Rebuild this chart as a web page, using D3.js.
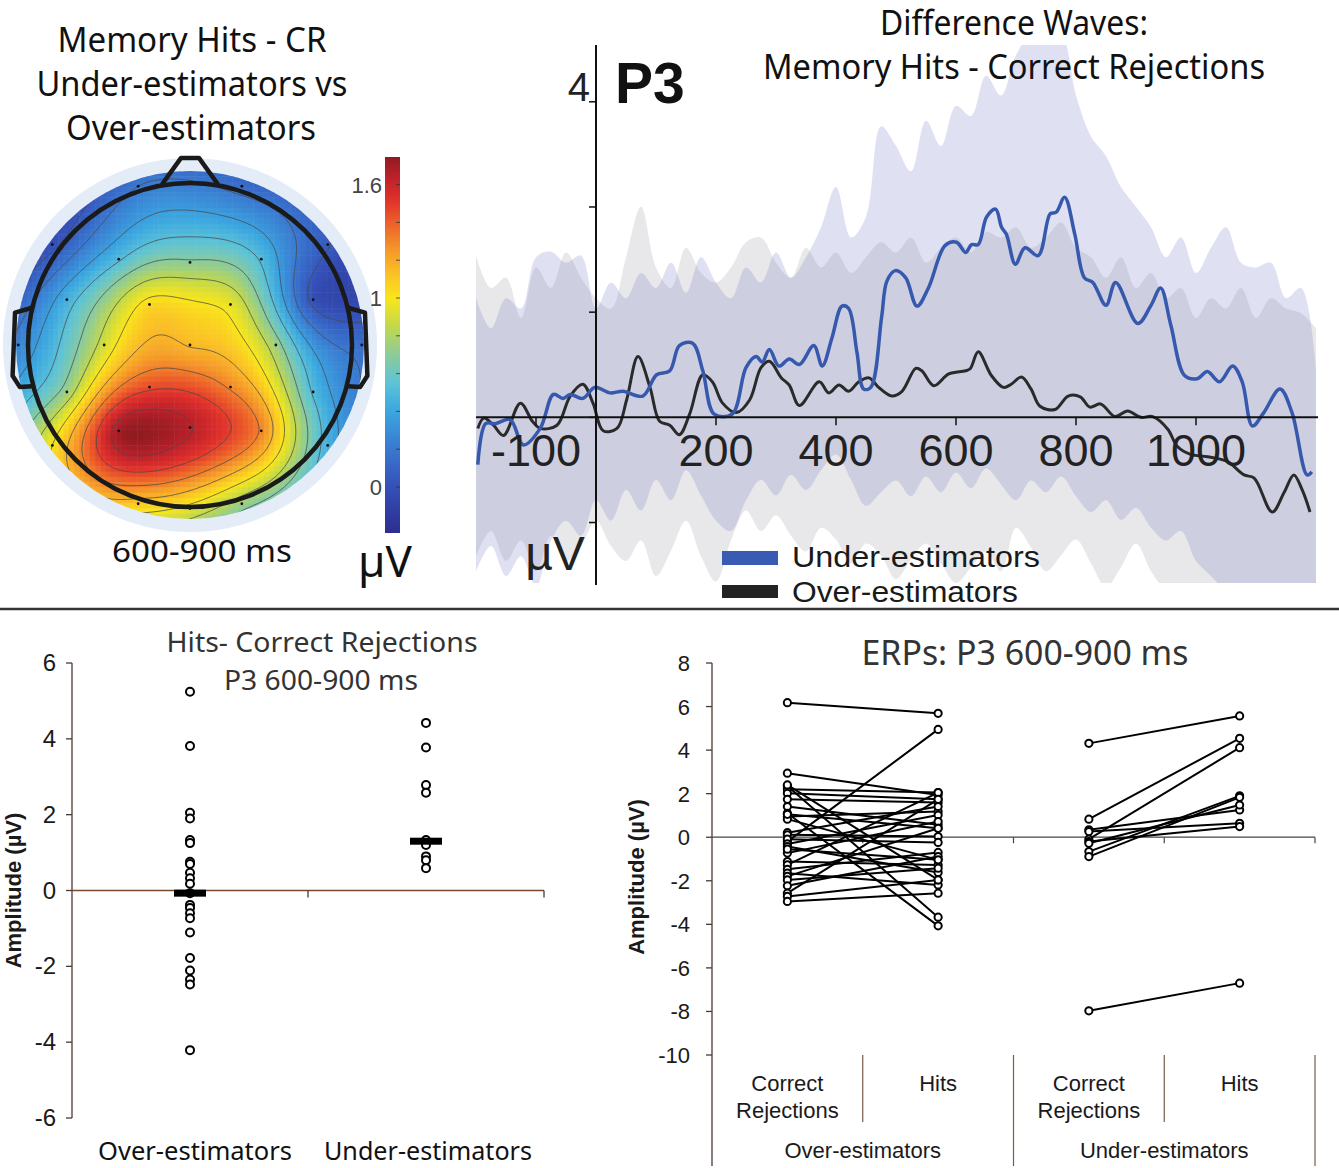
<!DOCTYPE html>
<html>
<meta charset="utf-8">
<style>
    body { margin: 0; background: #fff; }
    svg { display: block; }
    .hum { font-family: "Noto Sans", "Open Sans", sans-serif; fill: #111; }
    .sans { font-family: "Liberation Sans", Arial, sans-serif; fill: #1a1a1a; }
    .contour { fill: none; stroke: #4a4a4a; stroke-width: 0.9px; stroke-opacity: 0.85; }
    .head { fill: none; stroke: #1a1a1a; stroke-width: 4.5px; stroke-linejoin: round; stroke-linecap: round; }
    .band-over { fill: #808088; fill-opacity: 0.18; }
    .band-under { fill: #6870c0; fill-opacity: 0.21; }
    .wave-under { fill: none; stroke: #3658ad; stroke-width: 3.5px; stroke-linejoin: round; }
    .wave-over { fill: none; stroke: #2a2a2a; stroke-width: 3px; stroke-linejoin: round; }
    .pt { fill: #fff; stroke: #000; stroke-width: 2px; }
    .pair { stroke: #000; stroke-width: 2px; }
</style>

<body>
    <script src="https://d3js.org/d3.v7.min.js"></script>
    <script>

        var width = 1339,
            height = 1168;

        // ---- scalp map, hits - CR, 600-900 ms (electrode positions in head radii)
        var elecNames = ["Fp1","Fp2","F7","F3","Fz","F4","F8","FC5","FC1","FC2","FC6","T7","C3","Cz","C4","T8",
                         "CP5","CP1","CP2","CP6","P7","P3","Pz","P4","P8","O1","Oz","O2"];
        var elecX = [-0.32,0.32,-0.85,-0.44,0,0.44,0.85,-0.76,-0.25,0.25,0.76,-1.06,-0.53,0,0.53,1.06,
                     -0.76,-0.25,0.25,0.76,-0.85,-0.44,0,0.44,0.85,-0.32,0,0.32];
        var elecY = [-0.98,-0.98,-0.62,-0.53,-0.51,-0.53,-0.62,-0.28,-0.25,-0.25,-0.28,0,0,0,0,0,
                     0.29,0.26,0.26,0.29,0.62,0.53,0.51,0.53,0.62,0.98,1.01,0.98];
        var elecUv = [0.20,0.15,0.00,0.50,0.70,0.50,0.05,0.45,1.05,0.95,0.00,0.25,0.90,1.15,0.75,0.15,
                      0.75,1.45,1.30,0.50,1.00,1.70,1.65,1.30,0.45,1.10,0.95,0.75];
        var cbarLabels = [0, 1, 1.6];

        // ---- difference waves (ms, uV)
        var underMs = [-197,-184,-168,-143,-121,-93,-71,-55,-43,-22,-2,23,45,78,101,123,139,161,178,197,
                       227,250,267,277,289,305,322,339,363,377,393,410,421,435,446,458,476,485,499,516,
                       535,554,582,601,616,626,637,651,666,676,684,699,715,737,757,767,781,798,814,828,
                       850,866,903,925,941,958,981,1002,1019,1039,1061,1077,1094,1113,1140,1160,1185,1193];
        var underUv = [-0.60,-0.08,-0.08,-0.03,-0.35,-0.14,0.29,0.24,0.29,0.24,0.38,0.31,0.33,0.27,0.54,0.59,0.91,0.94,0.59,0.04,
                       0.04,0.63,0.77,0.70,0.86,0.65,0.74,0.67,0.91,0.65,1.00,1.41,1.38,0.82,0.36,0.38,1.27,1.73,1.86,1.77,
                       1.41,1.64,2.18,2.22,2.09,2.19,2.19,2.54,2.64,2.41,2.32,1.94,2.15,2.05,2.58,2.60,2.79,2.32,1.77,1.71,
                       1.42,1.71,1.19,1.42,1.64,1.17,0.53,0.49,0.58,0.45,0.65,0.45,-0.11,0.06,0.36,0.06,-0.73,-0.69];
        var overMs = [-197,-187,-171,-154,-126,-106,-93,-65,-43,-22,-5,12,35,51,70,90,106,123,139,156,
                      178,194,211,234,256,275,289,309,322,339,372,388,405,421,438,455,471,493,510,533,
                      543,563,588,616,624,637,659,679,692,709,725,740,765,787,807,823,841,865,886,908,
                      928,953,969,991,1019,1052,1080,1097,1127,1147,1163,1177,1190];
        var overUv = [-0.14,-0.01,-0.10,-0.23,0.18,-0.05,-0.14,-0.10,0.27,0.42,0.18,-0.17,-0.14,0.22,0.77,0.38,-0.05,-0.10,-0.22,0.04,
                      0.54,0.45,0.18,0.06,0.22,0.63,0.71,0.50,0.41,0.15,0.45,0.31,0.41,0.33,0.45,0.50,0.38,0.27,0.33,0.62,
                      0.59,0.40,0.55,0.59,0.62,0.83,0.53,0.38,0.42,0.51,0.36,0.14,0.10,0.27,0.26,0.13,0.17,0.01,0.08,0.00,
                      0.01,-0.15,-0.37,-0.47,-0.50,-0.56,-0.73,-0.77,-1.20,-0.95,-0.73,-0.92,-1.20];

        // confidence bands, read every 25 ms
        var bandMs = [-200,-175,-150,-125,-100,-75,-50,-25,0,25,50,75,100,125,150,175,200,225,250,275,
                      300,325,350,375,400,425,450,475,500,525,550,575,600,625,650,675,700,725,750,775,
                      800,825,850,875,900,925,950,975,1000,1025,1050,1075,1100,1125,1150,1175,1200];
        var underHi = [1.51,1.13,1.51,1.38,2.03,2.10,1.96,2.05,1.38,1.71,1.51,1.83,1.64,1.96,1.58,2.03,1.71,1.51,1.90,1.71,
                       2.09,1.77,2.03,2.41,2.92,2.28,2.54,3.69,3.44,3.12,3.76,3.44,3.95,3.82,4.33,4.08,4.59,4.85,4.78,4.85,
                       4.08,3.56,3.31,2.92,2.67,2.41,2.03,2.28,1.83,2.15,2.41,1.96,1.90,1.96,1.51,1.64,0.62];
        var underLo = [-1.95,-1.63,-2.01,-1.76,-2.14,-1.56,-1.31,-1.50,-1.05,-1.31,-0.92,-1.18,-0.79,-1.05,-0.67,-0.99,-1.31,-1.44,-1.05,-0.79,
                       -0.99,-0.73,-0.92,-0.67,-0.47,-0.79,-1.12,-0.95,-0.80,-1.00,-0.75,-0.95,-0.70,-0.90,-0.65,-0.85,-1.05,-0.80,-0.95,-0.75,
                       -1.00,-1.20,-1.05,-1.30,-1.15,-1.40,-1.56,-1.44,-1.82,-2.01,-2.21,-2.40,-2.40,-2.40,-2.40,-2.40,-2.40];
        var overHi = [2.05,1.64,1.77,1.26,1.90,1.64,2.09,1.77,1.51,1.38,2.03,2.67,1.90,1.64,2.15,1.83,1.71,1.90,2.22,2.28,
                      1.96,1.77,2.15,1.90,2.09,1.83,2.03,2.22,2.09,2.28,1.96,2.15,2.28,2.09,2.35,2.28,2.41,2.15,2.28,2.47,
                      2.15,2.03,1.77,2.03,1.64,1.83,1.51,1.64,1.26,1.51,1.38,1.64,1.26,1.51,1.38,1.32,1.13];
        var overLo = [-1.76,-1.44,-1.82,-1.56,-1.95,-1.50,-1.82,-1.63,-1.31,-1.63,-1.82,-1.56,-2.01,-1.69,-1.31,-1.76,-2.08,-1.56,-1.18,-1.44,
                      -1.24,-1.50,-1.70,-1.40,-1.55,-1.85,-1.60,-1.75,-2.05,-1.80,-1.60,-1.85,-2.10,-1.90,-1.70,-1.95,-1.40,-1.65,-1.95,-1.75,
                      -1.55,-1.85,-2.15,-1.90,-1.60,-1.95,-2.20,-2.30,-2.30,-2.30,-2.30,-2.30,-2.30,-2.30,-2.30,-2.30,-2.30];
        var waveTicks = [-100, 200, 400, 600, 800, 1000];
        var waveYTicks = [-4/3, 0, 4/3, 8/3, 4];

        // ---- hits - CR per participant, P3 600-900 ms
        var groups = ["Over-estimators", "Under-estimators"];
        var overDiff = [5.24,3.81,2.05,1.90,1.33,1.25,0.76,0.70,0.47,0.32,0.18,-0.07,-0.38,-0.46,-0.60,-0.73,-1.11,-1.78,-2.11,-2.35,-2.48,-4.21];
        var underDiff = [4.42,3.77,2.78,2.58,1.33,1.20,0.90,0.80,0.59];
        var diffCenter = [-0.07, 1.30];
        var diffTicks = [-6, -4, -2, 0, 2, 4, 6];

        // ---- ERPs per participant, CR vs hits
        var overCR   = [6.18,-0.20,2.94,2.35,2.20,2.02,1.74,1.41,1.10,0.95,0.83,0.21,0.11,-0.09,-0.31,-0.43,-0.73,-1.12,-1.27,-1.47,-1.65,-1.80,-1.96,-2.23,-2.57,-2.72,-2.95,2.40,1.05,-0.55];
        var overHits = [5.69,4.95,1.94,-3.67,2.05,1.74,1.59,0.57,-4.07,1.18,-1.04,1.41,0.03,-0.24,1.02,-1.62,0.72,-1.27,2.05,-0.70,-2.19,0.41,-1.42,-0.89,1.74,-1.96,-2.57,-1.96,0.41,-1.04];
        var underCR   = [4.31,0.83,-0.09,0.34,-0.66,-0.89,0.26,-0.20,-0.28,-7.97];
        var underHits = [5.57,4.54,4.11,1.25,1.90,1.83,0.64,0.49,1.48,-6.70];
        var erpTicks = [-10, -8, -6, -4, -2, 0, 2, 4, 6, 8];

        var svg = d3.select("body").append("svg")
            .attr("width", width)
            .attr("height", height);

        function addText(x, y, str, cls, size, anchor, len) {
            var t = svg.append("text").attr("class", cls)
                .attr("x", x).attr("y", y)
                .attr("font-size", size)
                .attr("text-anchor", anchor || "start")
                .text(str);
            if (len) t.attr("textLength", len).attr("lengthAdjust", "spacingAndGlyphs");
            return t;
        }

        // =============== scalp map ===============
        var cx = 190, cy = 345, headR = 162, mapR = 174;

        var jet = d3.scaleLinear()
            .domain([-0.24, 0.0, 0.2, 0.4, 0.55, 0.7, 0.85, 1.0, 1.12, 1.25, 1.4, 1.52, 1.65, 1.75])
            .range(["#2b2f8f","#3550b8","#3a78d0","#3ba6e0","#5dc3d6","#8ccb9a","#c2d84a","#f9e61a",
                    "#fbc326","#f59a2a","#ec5f2a","#e0302b","#b8202a","#8e1b20"])
            .clamp(true);

        function solve(A, b) {
            var n = b.length, i, j, k;
            for (k = 0; k < n; k++) {
                var p = k;
                for (i = k + 1; i < n; i++) if (Math.abs(A[i][k]) > Math.abs(A[p][k])) p = i;
                var t = A[k]; A[k] = A[p]; A[p] = t;
                t = b[k]; b[k] = b[p]; b[p] = t;
                for (i = k + 1; i < n; i++) {
                    var f = A[i][k] / A[k][k];
                    for (j = k; j < n; j++) A[i][j] -= f * A[k][j];
                    b[i] -= f * b[k];
                }
            }
            var x = new Array(n).fill(0);
            for (i = n - 1; i >= 0; i--) {
                var s = b[i];
                for (j = i + 1; j < n; j++) s -= A[i][j] * x[j];
                x[i] = s / A[i][i];
            }
            return x;
        }

        // biharmonic spline through the electrode values
        var nE = elecX.length;
        function green(r) { return r < 1e-9 ? 0 : r * r * Math.log(r); }
        var A = [], rhs = [];
        for (var i = 0; i < nE + 3; i++) { A.push(new Array(nE + 3).fill(0)); rhs.push(0); }
        for (i = 0; i < nE; i++) {
            for (var j = 0; j < nE; j++) A[i][j] = green(Math.hypot(elecX[i] - elecX[j], elecY[i] - elecY[j]));
            A[i][nE] = 1; A[i][nE + 1] = elecX[i]; A[i][nE + 2] = elecY[i];
            A[nE][i] = 1; A[nE + 1][i] = elecX[i]; A[nE + 2][i] = elecY[i];
            rhs[i] = elecUv[i];
        }
        var wts = solve(A, rhs);
        function potential(u, v) {
            var s = wts[nE] + wts[nE + 1] * u + wts[nE + 2] * v;
            for (var k = 0; k < nE; k++) s += wts[k] * green(Math.hypot(u - elecX[k], v - elecY[k]));
            return s;
        }

        svg.append("circle").attr("cx", cx).attr("cy", cy).attr("r", 187).attr("fill", "#e4ecf7");

        svg.append("clipPath").attr("id", "mapClip")
            .append("circle").attr("cx", cx).attr("cy", cy).attr("r", mapR);

        var gMap = svg.append("g").attr("clip-path", "url(#mapClip)");

        var nCell = 66, cell = 2 * mapR / nCell, cells = [];
        for (var gy = 0; gy < nCell; gy++) {
            for (var gx = 0; gx < nCell; gx++) {
                var px = cx - mapR + (gx + 0.5) * cell, py = cy - mapR + (gy + 0.5) * cell;
                if (Math.hypot(px - cx, py - cy) > mapR + cell) continue;
                cells.push({ x: px - cell / 2, y: py - cell / 2, v: potential((px - cx) / headR, (py - cy) / headR) });
            }
        }
        gMap.selectAll(".cell").data(cells).enter().append("rect")
            .attr("class", "cell")
            .attr("x", function (d) { return d.x; })
            .attr("y", function (d) { return d.y; })
            .attr("width", cell + 0.5)
            .attr("height", cell + 0.5)
            .attr("fill", function (d) { return jet(d.v); });

        var nFine = 160, ext = mapR + 8, fine = new Array(nFine * nFine);
        for (gy = 0; gy < nFine; gy++) {
            for (gx = 0; gx < nFine; gx++) {
                var fx = cx - ext + (gx + 0.5) * 2 * ext / nFine, fy = cy - ext + (gy + 0.5) * 2 * ext / nFine;
                fine[gy * nFine + gx] = potential((fx - cx) / headR, (fy - cy) / headR);
            }
        }
        var contours = d3.contours().size([nFine, nFine])
            .thresholds(d3.range(-0.12, 1.8, 0.16))(fine);
        var contourPath = d3.geoPath(d3.geoIdentity().scale(2 * ext / nFine).translate([cx - ext, cy - ext]));
        gMap.selectAll(".contour").data(contours).enter().append("path")
            .attr("class", "contour")
            .attr("d", contourPath);

        gMap.selectAll(".elec").data(elecNames).enter().append("circle")
            .attr("class", "elec")
            .attr("cx", function (d, i) { return cx + elecX[i] * headR; })
            .attr("cy", function (d, i) { return cy + elecY[i] * headR; })
            .attr("r", 1.4)
            .attr("fill", "#111");

        // head, nose, ears
        var headLine = d3.line()
            .x(function (d) { return cx + d[0] * headR; })
            .y(function (d) { return cy + d[1] * headR; });
        svg.append("path").attr("class", "head")
            .attr("d", headLine([[-0.17, -0.995], [-0.055, -1.155], [0.055, -1.155], [0.17, -0.995]]));
        var earL = [[-0.975, -0.23], [-1.08, -0.20], [-1.095, 0.19], [-1.05, 0.26], [-0.975, 0.255]];
        svg.append("path").attr("class", "head").attr("d", headLine(earL));
        svg.append("path").attr("class", "head")
            .attr("d", headLine(earL.map(function (p) { return [-p[0], p[1]]; })));
        svg.append("circle").attr("class", "head")
            .attr("cx", cx).attr("cy", cy).attr("r", headR);

        // colour bar
        var yC = d3.scaleLinear().domain([0, 1]).range([487, 298]);
        var grad = svg.append("defs").append("linearGradient").attr("id", "cbar")
            .attr("x1", 0).attr("y1", 1).attr("x2", 0).attr("y2", 0);
        var cDom = [yC.invert(533), yC.invert(157)];
        d3.range(0, 1.0001, 0.025).forEach(function (f) {
            grad.append("stop").attr("offset", f).attr("stop-color", jet(cDom[0] + f * (cDom[1] - cDom[0])));
        });
        svg.append("rect").attr("x", 385).attr("y", 157).attr("width", 15).attr("height", 376)
            .attr("fill", "url(#cbar)");
        d3.range(0, 1.7, 0.2).forEach(function (v) {
            svg.append("line").attr("x1", 396).attr("x2", 400)
                .attr("y1", yC(v)).attr("y2", yC(v))
                .attr("stroke", "#333").attr("stroke-width", 0.8);
        });
        cbarLabels.forEach(function (v) {
            addText(382, yC(v) + 8, String(v), "sans", 22, "end").style("fill", "#444");
        });

        addText(192, 52, "Memory Hits - CR", "hum", 34, "middle", 269);
        addText(192, 96, "Under-estimators vs", "hum", 34, "middle", 311);
        addText(191, 140, "Over-estimators", "hum", 34, "middle", 250);
        addText(202, 562, "600-900 ms", "hum", 31, "middle", 180);
        addText(385, 577, "µV", "hum", 44, "middle");

        // =============== difference waves ===============
        var xW = d3.scaleLinear().domain([-200, 1200]).range([476, 1316]);
        var yW = d3.scaleLinear().domain([-2.1, 4.72]).range([583, 45]);

        svg.append("clipPath").attr("id", "waveClip")
            .append("rect").attr("x", 476).attr("y", 45).attr("width", 840).attr("height", 538);
        var gW = svg.append("g").attr("clip-path", "url(#waveClip)");

        function bandArea(hi, lo) {
            return d3.area()
                .x(function (d, i) { return xW(bandMs[i]); })
                .y0(function (d, i) { return yW(lo[i]); })
                .y1(function (d, i) { return yW(hi[i]); })
                .curve(d3.curveCatmullRom);
        }
        gW.append("path").datum(bandMs).attr("class", "band-over").attr("d", bandArea(overHi, overLo));
        gW.append("path").datum(bandMs).attr("class", "band-under").attr("d", bandArea(underHi, underLo));

        // axes
        svg.append("line").attr("x1", 476).attr("x2", 1318)
            .attr("y1", yW(0)).attr("y2", yW(0))
            .attr("stroke", "#111").attr("stroke-width", 2);
        svg.append("line").attr("x1", xW(0)).attr("x2", xW(0))
            .attr("y1", 45).attr("y2", 585)
            .attr("stroke", "#111").attr("stroke-width", 2);
        waveYTicks.forEach(function (v) {
            svg.append("line").attr("x1", xW(0) - 7).attr("x2", xW(0))
                .attr("y1", yW(v)).attr("y2", yW(v))
                .attr("stroke", "#111").attr("stroke-width", 1.5);
        });
        waveTicks.forEach(function (v) {
            svg.append("line").attr("x1", xW(v)).attr("x2", xW(v))
                .attr("y1", yW(0)).attr("y2", yW(0) + 8)
                .attr("stroke", "#111").attr("stroke-width", 1.5);
            addText(xW(v), 466, String(v), "sans", 45, "middle").style("fill", "#222");
        });
        addText(590, 101, "4", "sans", 40, "end").style("fill", "#222");
        addText(555, 570, "µV", "sans", 48, "middle").style("fill", "#222");
        addText(615, 103, "P3", "sans", 57).attr("font-weight", "bold").style("fill", "#111");

        var waveLine = d3.line()
            .x(function (d) { return xW(d[0]); })
            .y(function (d) { return yW(d[1]); })
            .curve(d3.curveCatmullRom);
        gW.append("path").datum(d3.zip(overMs, overUv)).attr("class", "wave-over").attr("d", waveLine);
        gW.append("path").datum(d3.zip(underMs, underUv)).attr("class", "wave-under").attr("d", waveLine);

        addText(1014, 35, "Difference Waves:", "hum", 34, "middle", 268);
        addText(1014, 79, "Memory Hits - Correct Rejections", "hum", 34, "middle", 502);

        svg.append("rect").attr("x", 722).attr("y", 551).attr("width", 56).attr("height", 14).attr("fill", "#3a5bb3");
        svg.append("rect").attr("x", 722).attr("y", 585).attr("width", 56).attr("height", 13).attr("fill", "#222");
        addText(792, 567, "Under-estimators", "sans", 29, "start", 248);
        addText(792, 602, "Over-estimators", "sans", 29, "start", 226);

        // separator
        svg.append("line").attr("x1", 0).attr("x2", width).attr("y1", 609).attr("y2", 609)
            .attr("stroke", "#333").attr("stroke-width", 2.5);

        // =============== hits - CR scatter ===============
        var yL = d3.scaleLinear().domain([-6, 6]).range([1118, 663]);
        var xL = d3.scaleBand().domain(groups).range([72, 544]);

        svg.append("line").attr("x1", 72).attr("x2", 72).attr("y1", yL(6)).attr("y2", yL(-6))
            .attr("stroke", "#4a3b33").attr("stroke-width", 1.3);
        diffTicks.forEach(function (v) {
            svg.append("line").attr("x1", 66).attr("x2", 72).attr("y1", yL(v)).attr("y2", yL(v))
                .attr("stroke", "#4a3b33").attr("stroke-width", 1.3);
            addText(56, yL(v) + 8, String(v), "sans", 24, "end");
        });
        svg.append("line").attr("x1", 72).attr("x2", 544).attr("y1", yL(0)).attr("y2", yL(0))
            .attr("stroke", "#7a4a2a").attr("stroke-width", 1.3);
        [xL(groups[1]), xL.range()[1]].forEach(function (x) {
            svg.append("line").attr("x1", x).attr("x2", x).attr("y1", yL(0)).attr("y2", yL(0) + 7)
                .attr("stroke", "#4a3b33").attr("stroke-width", 1.3);
        });

        [overDiff, underDiff].forEach(function (vals, gi) {
            var xc = xL(groups[gi]) + xL.bandwidth() / 2;
            svg.selectAll(".pt-l" + gi).data(vals).enter().append("circle")
                .attr("class", "pt")
                .attr("cx", xc)
                .attr("cy", function (d) { return yL(d); })
                .attr("r", 4);
            svg.append("rect").attr("x", xc - 16).attr("y", yL(diffCenter[gi]) - 3.5)
                .attr("width", 32).attr("height", 7).attr("fill", "#000");
        });

        addText(322, 652, "Hits- Correct Rejections", "hum", 28, "middle", 311).style("fill", "#333");
        addText(321, 690, "P3 600-900 ms", "hum", 28, "middle", 194).style("fill", "#333");
        addText(195, 1160, groups[0], "hum", 26, "middle", 194);
        addText(428, 1160, groups[1], "hum", 26, "middle", 208);
        svg.append("text").attr("class", "sans")
            .attr("transform", "translate(21," + yL(0) + ") rotate(-90)")
            .attr("text-anchor", "middle").attr("font-size", 22).attr("font-weight", "bold")
            .text("Amplitude (µV)");

        // =============== paired ERPs ===============
        var yR = d3.scaleLinear().domain([-10, 8]).range([1055, 663]);
        var slots = ["oCR", "oH", "uCR", "uH"];
        var xR = d3.scaleBand().domain(slots).range([712, 1315]);
        function mid(s) { return xR(s) + xR.bandwidth() / 2; }

        svg.append("line").attr("x1", 712).attr("x2", 712).attr("y1", yR(8)).attr("y2", 1166)
            .attr("stroke", "#4a3b33").attr("stroke-width", 1.3);
        erpTicks.forEach(function (v) {
            svg.append("line").attr("x1", 706).attr("x2", 712).attr("y1", yR(v)).attr("y2", yR(v))
                .attr("stroke", "#4a3b33").attr("stroke-width", 1.3);
            addText(690, yR(v) + 8, String(v), "sans", 22, "end");
        });
        svg.append("line").attr("x1", 712).attr("x2", 1315).attr("y1", yR(0)).attr("y2", yR(0))
            .attr("stroke", "#444").attr("stroke-width", 1.2);
        ["oH", "uCR", "uH"].forEach(function (s) {
            svg.append("line").attr("x1", xR(s)).attr("x2", xR(s)).attr("y1", yR(0)).attr("y2", yR(0) + 6)
                .attr("stroke", "#444").attr("stroke-width", 1.2);
        });
        svg.append("line").attr("x1", 1315).attr("x2", 1315).attr("y1", yR(0)).attr("y2", yR(0) + 6)
            .attr("stroke", "#444").attr("stroke-width", 1.2);
        // category separators under the plot
        [["oH", 1122], ["uCR", 1166], ["uH", 1122]].forEach(function (s) {
            svg.append("line").attr("x1", xR(s[0])).attr("x2", xR(s[0])).attr("y1", 1055).attr("y2", s[1])
                .attr("stroke", "#7a5a4a").attr("stroke-width", 1.2);
        });
        svg.append("line").attr("x1", 1315).attr("x2", 1315).attr("y1", 1055).attr("y2", 1166)
            .attr("stroke", "#7a5a4a").attr("stroke-width", 1.2);

        function pairs(cr, hits, a, b) {
            var g = svg.append("g");
            g.selectAll("line").data(cr).enter().append("line")
                .attr("class", "pair")
                .attr("x1", mid(a)).attr("x2", mid(b))
                .attr("y1", function (d) { return yR(d); })
                .attr("y2", function (d, i) { return yR(hits[i]); });
            g.selectAll(".pa").data(cr).enter().append("circle").attr("class", "pt pa")
                .attr("cx", mid(a)).attr("cy", function (d) { return yR(d); }).attr("r", 3.6);
            g.selectAll(".pb").data(hits).enter().append("circle").attr("class", "pt pb")
                .attr("cx", mid(b)).attr("cy", function (d) { return yR(d); }).attr("r", 3.6);
        }
        pairs(overCR, overHits, "oCR", "oH");
        pairs(underCR, underHits, "uCR", "uH");

        ["oCR", "uCR"].forEach(function (s) {
            addText(mid(s), 1091, "Correct", "sans", 22, "middle");
            addText(mid(s), 1118, "Rejections", "sans", 22, "middle");
        });
        ["oH", "uH"].forEach(function (s) {
            addText(mid(s), 1091, "Hits", "sans", 22, "middle");
        });
        addText(xR("oH"), 1158, groups[0], "sans", 22, "middle");
        addText(xR("uH"), 1158, groups[1], "sans", 22, "middle");

        addText(1025, 665, "ERPs: P3 600-900 ms", "hum", 34, "middle", 327).style("fill", "#333");
        svg.append("text").attr("class", "sans")
            .attr("transform", "translate(644," + 877 + ") rotate(-90)")
            .attr("text-anchor", "middle").attr("font-size", 22).attr("font-weight", "bold")
            .text("Amplitude (µV)");

    </script>
</body>
</html>
